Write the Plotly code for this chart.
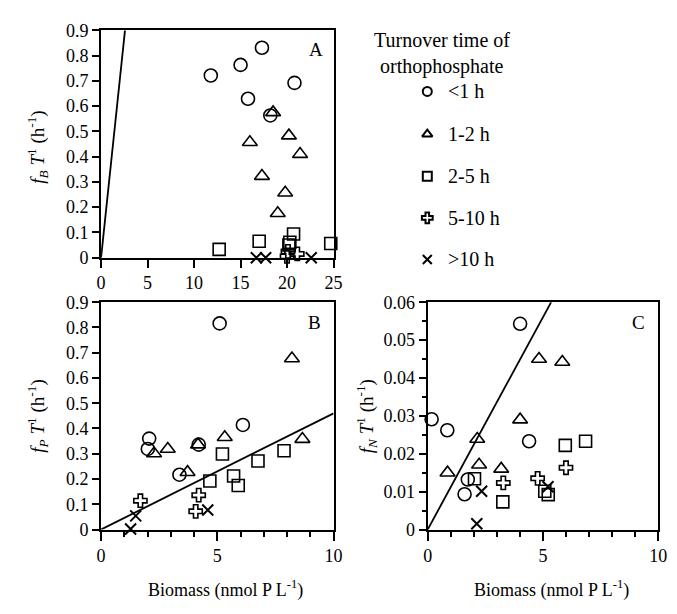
import plotly.graph_objects as go

# ---- Panel A: f_B T^-1 vs biomass (x 0-25) ----
a_circle_x = [11.8, 15.0, 17.3, 20.8, 15.8, 18.2]
a_circle_y = [0.721, 0.763, 0.831, 0.692, 0.629, 0.563]
a_tri_x = [18.5, 16.0, 20.2, 21.4, 17.3, 19.8, 19.0]
a_tri_y = [0.575, 0.457, 0.483, 0.41, 0.323, 0.257, 0.176]
a_sq_x = [12.7, 17.0, 20.7, 20.3, 20.2, 24.7]
a_sq_y = [0.033, 0.065, 0.094, 0.061, 0.05, 0.056]
a_plus_x = [20.1, 21.1, 20.0]
a_plus_y = [0.025, 0.015, 0.005]
a_x_x = [16.7, 17.7, 22.6]
a_x_y = [0.0, 0.0, 0.0]
a_slope = 0.35

# ---- Panel B: f_P T^-1 vs biomass (x 0-10) ----
b_circle_x = [5.1, 2.07, 2.01, 4.2, 6.1, 3.37]
b_circle_y = [0.816, 0.36, 0.319, 0.336, 0.414, 0.217]
b_tri_x = [8.21, 2.28, 2.87, 4.17, 5.32, 3.72, 8.66]
b_tri_y = [0.677, 0.301, 0.319, 0.336, 0.365, 0.227, 0.358]
b_sq_x = [5.22, 6.75, 7.87, 4.68, 5.70, 5.9]
b_sq_y = [0.299, 0.271, 0.312, 0.192, 0.212, 0.174]
b_plus_x = [1.69, 4.2, 4.07]
b_plus_y = [0.114, 0.136, 0.072]
b_x_x = [1.49, 1.27, 4.59]
b_x_y = [0.054, 0.002, 0.077]
b_slope = 0.046

# ---- Panel C: f_N T^-1 vs biomass (x 0-10) ----
c_circle_x = [4.01, 0.17, 0.85, 4.4, 1.74, 1.6]
c_circle_y = [0.0543, 0.0291, 0.0262, 0.0233, 0.0132, 0.0093]
c_tri_x = [4.83, 5.84, 4.01, 2.15, 0.86, 2.23, 3.19]
c_tri_y = [0.045, 0.0442, 0.029, 0.0239, 0.015, 0.0171, 0.016]
c_sq_x = [5.97, 6.85, 2.03, 3.26, 5.08, 5.23]
c_sq_y = [0.0222, 0.0233, 0.0134, 0.0073, 0.0101, 0.0092]
c_plus_x = [6.0, 4.77, 3.28]
c_plus_y = [0.0163, 0.0135, 0.0123]
c_x_x = [2.34, 2.13, 5.22]
c_x_y = [0.0101, 0.0015, 0.0113]
c_slope = 0.0112

classes = ["<1 h", "1-2 h", "2-5 h", "5-10 h", ">10 h"]
symbols = ["circle-open", "triangle-up-open", "square-open", "cross-open", "x-thin-open"]
sizes = [13, 13, 12, 11, 11]

FONT = "Liberation Serif"
fig = go.Figure()

panels = [
    ("x", "y", [(a_circle_x, a_circle_y), (a_tri_x, a_tri_y), (a_sq_x, a_sq_y),
                (a_plus_x, a_plus_y), (a_x_x, a_x_y)], a_slope, 0.9),
    ("x2", "y2", [(b_circle_x, b_circle_y), (b_tri_x, b_tri_y), (b_sq_x, b_sq_y),
                  (b_plus_x, b_plus_y), (b_x_x, b_x_y)], b_slope, 0.9),
    ("x3", "y3", [(c_circle_x, c_circle_y), (c_tri_x, c_tri_y), (c_sq_x, c_sq_y),
                  (c_plus_x, c_plus_y), (c_x_x, c_x_y)], c_slope, 0.06),
]
xmax = {"x": 25, "x2": 10, "x3": 10}

for xa, ya, groups, slope, ytop in panels:
    xend = min(xmax[xa], ytop / slope)
    fig.add_trace(go.Scatter(x=[0, xend], y=[0, slope * xend], mode="lines",
                             line=dict(color="black", width=1.8),
                             xaxis=xa, yaxis=ya, showlegend=False, cliponaxis=False))
    for (gx, gy), sym, sz in zip(groups, symbols, sizes):
        fig.add_trace(go.Scatter(
            x=gx, y=gy, mode="markers", xaxis=xa, yaxis=ya, showlegend=False,
            cliponaxis=False,
            marker=dict(symbol=sym, size=sz, color="black",
                        line=dict(color="black", width=1.6 if sym != "x-thin-open" else 2))))

# key markers on a small invisible overlay axis next to the class labels
key_y = [0.863, 0.791, 0.72, 0.65, 0.58]
fig.add_trace(go.Scatter(
    x=[0.5] * 5, y=key_y, mode="markers", xaxis="x4", yaxis="y4", showlegend=False,
    cliponaxis=False,
    marker=dict(symbol=symbols, size=9, color="black", line=dict(color="black", width=2))))

axis_common = dict(showline=True, linecolor="black", linewidth=2, mirror=True,
                   ticks="outside", tickcolor="black", tickwidth=1.5, showgrid=False,
                   zeroline=False, tickfont=dict(family=FONT, size=18, color="black"))

fig.update_layout(
    width=677, height=614, margin=dict(l=0, r=0, t=0, b=0),
    paper_bgcolor="white", plot_bgcolor="rgba(0,0,0,0)",
    xaxis=dict(domain=[0.1462, 0.4963], range=[0, 25], tickvals=[0, 5, 10, 15, 20, 25],
               ticklen=8, anchor="y", **axis_common),
    yaxis=dict(domain=[0.583, 0.9658], range=[0, 0.9], dtick=0.1, ticklen=7,
               anchor="x", **axis_common),
    xaxis2=dict(domain=[0.1462, 0.4963], range=[0, 10], dtick=5, ticklen=9, anchor="y2",
                minor=dict(dtick=1, ticks="outside", ticklen=5, tickcolor="black"),
                **axis_common),
    yaxis2=dict(domain=[0.1254, 0.5081], range=[0, 0.9], dtick=0.1, ticklen=7,
                anchor="x2", **axis_common),
    xaxis3=dict(domain=[0.6381, 0.9852], range=[0, 10], tickvals=[0, 5, 10], ticklen=9,
                anchor="y3",
                minor=dict(dtick=1, ticks="outside", ticklen=5, tickcolor="black"),
                **axis_common),
    yaxis3=dict(domain=[0.1254, 0.5081], range=[0, 0.06], dtick=0.01, ticklen=7,
                anchor="x3",
                minor=dict(dtick=0.005, ticks="outside", ticklen=4, tickcolor="black"),
                **axis_common),
    xaxis4=dict(domain=[0.625, 0.65], range=[0, 1], visible=False, anchor="y4"),
    yaxis4=dict(domain=[0.5, 0.95], range=[0.5, 0.95], visible=False, anchor="x4"),
    font=dict(family=FONT, size=17, color="black"),
)

ann = []
ytitle = lambda s: f"<i>f<sub>{s}</sub> T</i><sup>1</sup> (h<sup>-1</sup>)"
ann.append(dict(x=34, y=142, text=ytitle("B"), textangle=-90, size=19))
ann.append(dict(x=34, y=420, text=ytitle("P"), textangle=-90, size=19))
ann.append(dict(x=369, y=420, text=ytitle("N"), textangle=-90, size=19))
xt = "Biomass (nmol P L<sup>-1</sup>)"
ann.append(dict(x=226, y=598, text=xt, size=18))
ann.append(dict(x=558, y=598, text=xt, size=18))
ann.append(dict(x=318, y=41, text="A", size=19))
ann.append(dict(x=317, y=323, text="B", size=19))
ann.append(dict(x=647, y=323, text="C", size=19))
ann.append(dict(x=447, y=31, text="Turnover time of", size=20))
ann.append(dict(x=446, y=58, text="orthophosphate", size=20))
for lab, ky in zip(classes, key_y):
    ann.append(dict(x=451, y=(1 - ky) * 614, text=lab, xanchor="left", size=20))

for a in ann:
    fig.add_annotation(
        x=a["x"] / 677, y=1 - a["y"] / 614, xref="paper", yref="paper",
        text=a["text"], showarrow=False, textangle=a.get("textangle", 0),
        xanchor=a.get("xanchor", "center"), yanchor="middle",
        font=dict(family=FONT, size=a.get("size", 17), color="black"))

fig.write_html("out.html")
